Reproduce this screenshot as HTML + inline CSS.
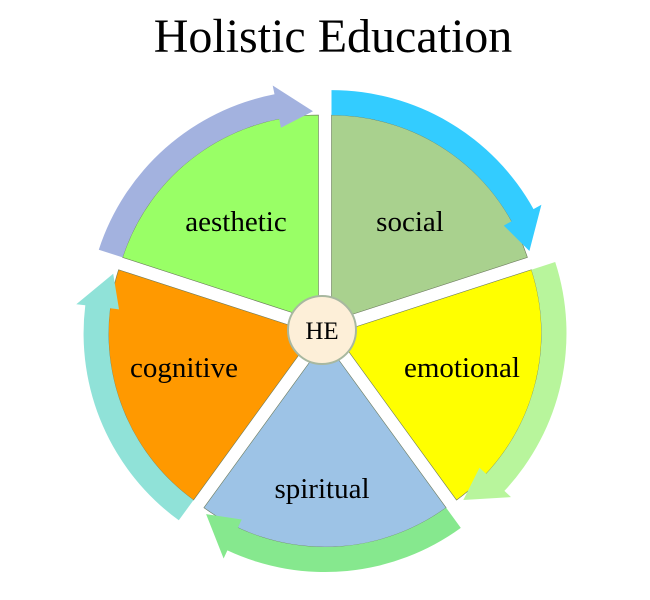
<!DOCTYPE html>
<html><head><meta charset="utf-8"><style>
html,body{margin:0;padding:0;background:#fff;width:650px;height:600px;overflow:hidden}
svg{display:block}
text{font-family:"Liberation Serif",serif;fill:#000}
</style></head><body>
<svg id="s" width="650" height="600" viewBox="0 0 650 600">
<text x="333" y="52" font-size="48" text-anchor="middle">Holistic Education</text>
<g id="g"></g>
<circle cx="322" cy="330" r="34" fill="#fdefd8" stroke="#a8b8a0" stroke-width="2"/>
<text x="322" y="339" font-size="25" text-anchor="middle">HE</text>
</svg>
<script>
var cx=325,cy=330,R=206,d=11,W=25;
var segs=[
 {a:198,fill:"#99ff66",arrow:"#a3b2df",label:"aesthetic",lx:236,ly:231},
 {a:270,fill:"#a9d18e",arrow:"#33ccff",label:"social",lx:410,ly:231},
 {a:342,fill:"#ffff00",arrow:"#b8f59c",label:"emotional",lx:462,ly:377},
 {a:54,fill:"#9dc3e6",arrow:"#86e88e",label:"spiritual",lx:322,ly:498},
 {a:126,fill:"#ff9900",arrow:"#90e2d8",label:"cognitive",lx:184,ly:377}
];
function P(r,deg,ox,oy){var t=deg*Math.PI/180;return [(ox+r*Math.cos(t)).toFixed(1),(oy+r*Math.sin(t)).toFixed(1)];}
var h="";
segs.forEach(function(s){
 var b=(s.a+36)*Math.PI/180, ox=cx+d*Math.cos(b), oy=cy+d*Math.sin(b);
 var a0=s.a,a1=s.a+72;
 var p0=P(R,a0,ox,oy),p1=P(R,a1,ox,oy);
 h+='<path d="M'+ox.toFixed(1)+','+oy.toFixed(1)+' L'+p0+' A'+R+','+R+' 0 0 1 '+p1+' Z" fill="'+s.fill+'" stroke="#6b7a5c" stroke-width="0.6"/>';
 var ri=R,ro=R+W,ae=a1-11;
 var q1=P(ro,a0,ox,oy),q2=P(ro,ae,ox,oy),h1=P(ro+9,ae,ox,oy),tip=P(R+4,a1-1.5,ox,oy),h2=P(ri-9,ae,ox,oy),q3=P(ri,ae,ox,oy),q4=P(ri,a0,ox,oy);
 h+='<path d="M'+q1+' A'+ro+','+ro+' 0 0 1 '+q2+' L'+h1+' L'+tip+' L'+h2+' L'+q3+' A'+ri+','+ri+' 0 0 0 '+q4+' Z" fill="'+s.arrow+'"/>';
 h+='<text x="'+s.lx+'" y="'+s.ly+'" font-size="29" text-anchor="middle">'+s.label+'</text>';
});
document.getElementById("g").innerHTML=h;
</script>
</body></html>
